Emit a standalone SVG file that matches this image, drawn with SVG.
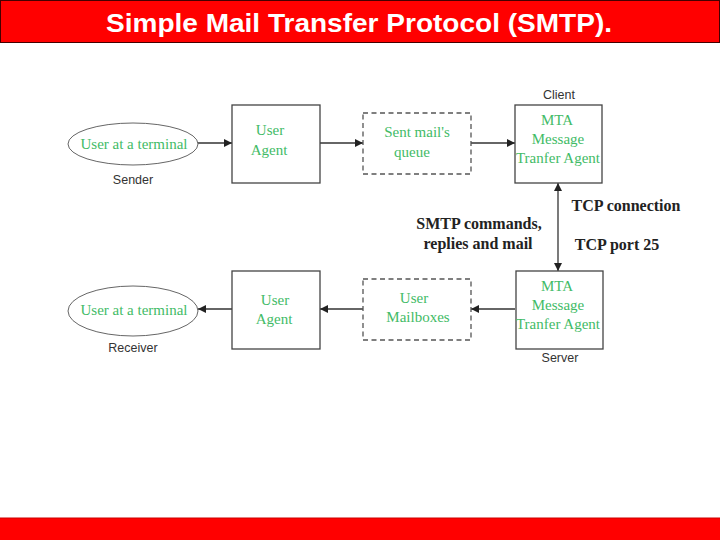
<svg xmlns="http://www.w3.org/2000/svg" width="720" height="540" viewBox="0 0 720 540">
<defs>
<style>
.box{fill:#fff;stroke:#444;stroke-width:1.3}
.dash{fill:#fff;stroke:#555;stroke-width:1.3;stroke-dasharray:5,3.5}
.ell{fill:#fff;stroke:#666;stroke-width:1}
.g{font-family:"Liberation Serif",serif;font-size:15px;fill:#42bb66;text-anchor:middle}
.lbl{font-family:"Liberation Sans",Arial,sans-serif;font-size:12.5px;fill:#333;text-anchor:middle}
.b{font-family:"Liberation Serif",serif;font-size:16px;font-weight:bold;fill:#222;text-anchor:middle}
.ln{stroke:#333;stroke-width:1.3;fill:none}
</style>
<marker id="ah" viewBox="0 0 10 10" refX="10" refY="5" markerWidth="8" markerHeight="8" markerUnits="userSpaceOnUse" orient="auto-start-reverse">
<path d="M0,0 L10,5 L0,10 z" fill="#222"/>
</marker>
</defs>
<rect x="0" y="0" width="720" height="540" fill="#fff"/>
<g id="header">
<rect x="0.5" y="0.5" width="719" height="42" fill="#f00" stroke="#400" stroke-width="1"/>
<text x="359" y="32" font-family="Liberation Sans,Arial,sans-serif" font-size="26" font-weight="bold" fill="#fff" text-anchor="middle" textLength="506" lengthAdjust="spacingAndGlyphs">Simple Mail Transfer Protocol (SMTP).</text>
</g>
<g id="footer">
<rect x="0" y="518" width="720" height="22" fill="#f00"/>
<line x1="0" y1="518" x2="720" y2="518" stroke="#c00" stroke-width="1"/>
</g>
<g id="connectors">
<line class="ln" x1="198" y1="143" x2="232" y2="143" marker-end="url(#ah)"/>
<line class="ln" x1="320" y1="143" x2="363" y2="143" marker-end="url(#ah)"/>
<line class="ln" x1="471" y1="143" x2="515" y2="143" marker-end="url(#ah)"/>
<line class="ln" x1="558" y1="183" x2="558" y2="271" marker-start="url(#ah)" marker-end="url(#ah)"/>
<line class="ln" x1="515" y1="309" x2="471" y2="309" marker-end="url(#ah)"/>
<line class="ln" x1="363" y1="309" x2="320" y2="309" marker-end="url(#ah)"/>
<line class="ln" x1="232" y1="309" x2="198" y2="309" marker-end="url(#ah)"/>
</g>
<g id="sender">
<ellipse class="ell" cx="133" cy="144" rx="65" ry="21"/>
<text class="g" x="134" y="149">User at a terminal</text>
<text class="lbl" x="133" y="184">Sender</text>
</g>
<g id="ua-send">
<rect class="box" x="232" y="105" width="88" height="78"/>
<text class="g" x="270" y="135">User</text>
<text class="g" x="269" y="155">Agent</text>
</g>
<g id="queue">
<rect class="dash" x="363" y="113" width="108" height="61"/>
<text class="g" x="417" y="137">Sent mail's</text>
<text class="g" x="412" y="157">queue</text>
</g>
<g id="mta-client">
<rect class="box" x="515" y="105" width="87" height="78"/>
<text class="g" x="557" y="125">MTA</text>
<text class="g" x="558" y="144">Message</text>
<text class="g" x="558" y="163">Tranfer Agent</text>
<text class="lbl" x="559" y="99">Client</text>
</g>
<g id="tcp-labels">
<text class="b" x="626" y="211">TCP connection</text>
<text class="b" x="617" y="250">TCP port 25</text>
<text class="b" x="479" y="229">SMTP commands,</text>
<text class="b" x="478" y="249">replies and mail</text>
</g>
<g id="receiver">
<ellipse class="ell" cx="133" cy="311" rx="65" ry="25"/>
<text class="g" x="134" y="315">User at a terminal</text>
<text class="lbl" x="133" y="352">Receiver</text>
</g>
<g id="ua-recv">
<rect class="box" x="232" y="271" width="88" height="78"/>
<text class="g" x="275" y="305">User</text>
<text class="g" x="274" y="324">Agent</text>
</g>
<g id="mailboxes">
<rect class="dash" x="363" y="279" width="108" height="61"/>
<text class="g" x="414" y="303">User</text>
<text class="g" x="418" y="322">Mailboxes</text>
</g>
<g id="mta-server">
<rect class="box" x="516" y="271" width="87" height="78"/>
<text class="g" x="557" y="291">MTA</text>
<text class="g" x="558" y="310">Message</text>
<text class="g" x="558" y="329">Tranfer Agent</text>
<text class="lbl" x="560" y="362">Server</text>
</g>
</svg>
